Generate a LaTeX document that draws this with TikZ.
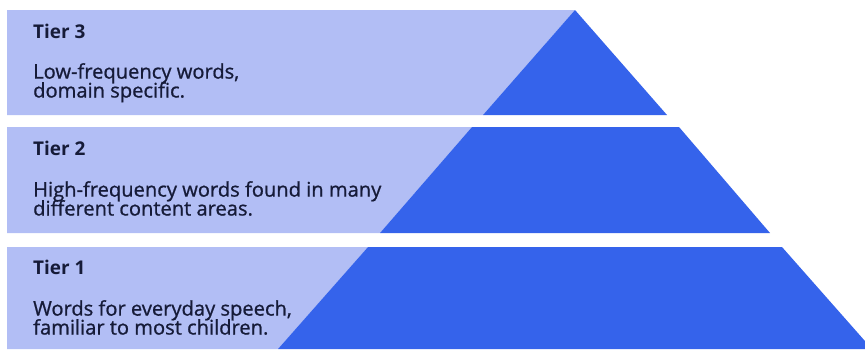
\documentclass[tikz,border=0pt]{standalone}
\usepackage{fontspec}
\setmainfont{Open Sans}
\newfontfamily\tierfont{Open Sans}[FakeBold=0.9]
\newcommand\tierleading{\lineskiplimit=-20pt\relax}
\usepackage{xcolor}
\definecolor{tierlight}{RGB}{178,190,245}
\definecolor{tierdark}{RGB}{53,99,235}
\definecolor{tiertext}{RGB}{22,27,56}

\begin{document}
\begin{tikzpicture}[
  tierhead/.style={anchor=north west,inner sep=0pt,text=tiertext,font=\bfseries\fontsize{19}{19}\selectfont},
  tierdesc/.style={anchor=north west,inner sep=0pt,align=left,text=tiertext,font=\tierfont\fontsize{20.2}{19}\selectfont\tierleading}]

\useasboundingbox (0bp,0bp) rectangle (865bp,-352bp);
\clip (0bp,0bp) rectangle (865bp,-352bp);

% tier 3 band
\fill [tierlight] (7bp,-10bp) -- (575bp,-10bp) -- (483bp,-115bp) -- (7bp,-115bp) -- cycle;
\fill [tierdark] (575bp,-10bp) -- (667bp,-115bp) -- (483bp,-115bp) -- cycle;
% tier 2 band
\fill [tierlight] (7bp,-127bp) -- (472bp,-127bp) -- (380bp,-233bp) -- (7bp,-233bp) -- cycle;
\fill [tierdark] (472bp,-127bp) -- (679bp,-127bp) -- (770bp,-233bp) -- (380bp,-233bp) -- cycle;
% tier 1 band
\fill [tierlight] (7bp,-247bp) -- (368bp,-247bp) -- (278bp,-349bp) -- (7bp,-349bp) -- cycle;
\fill [tierdark] (368bp,-247bp) -- (782bp,-247bp) -- (872bp,-349bp) -- (278bp,-349bp) -- cycle;

\node (T3) at (33bp,-24bp) [tierhead] {Tier 3};
\node (D3) at (33bp,-63bp) [tierdesc] {Low-frequency words,\\ domain specific.};
\node (T2) at (33bp,-141bp) [tierhead] {Tier 2};
\node (D2) at (33bp,-181bp) [tierdesc] {High-frequency words found in many\\ different content areas.};
\node (T1) at (33bp,-260bp) [tierhead] {Tier 1};
\node (D1) at (33bp,-300bp) [tierdesc] {Words for everyday speech,\\ familiar to most children.};
\end{tikzpicture}
\end{document}
